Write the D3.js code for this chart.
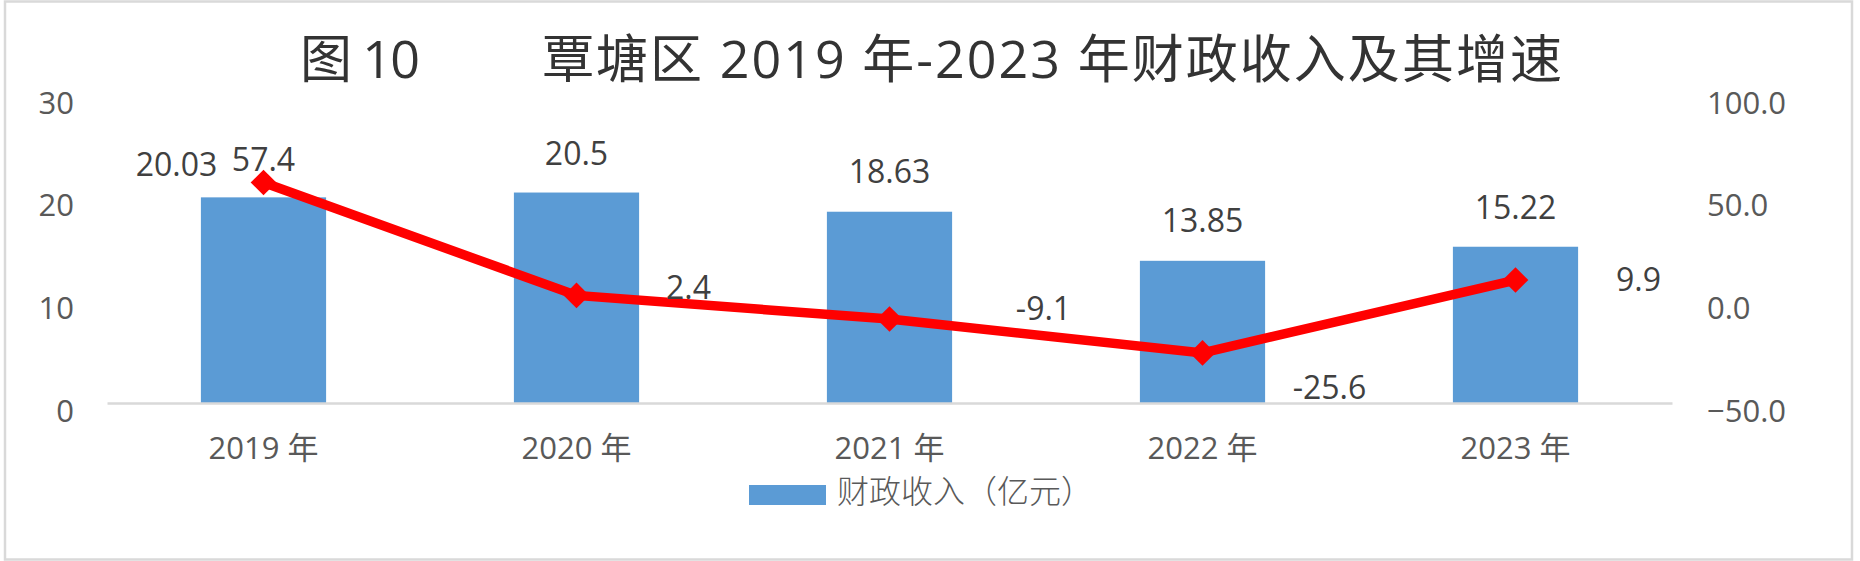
<!DOCTYPE html>
<html>
<head>
<meta charset="utf-8">
<script src="https://cdn.jsdelivr.net/npm/d3@7"></script>
<style>
  html, body { margin: 0; padding: 0; background: #fff; }
  svg text { font-family: "Open Sans", "Noto Sans CJK SC", sans-serif; }
  .cjk { font-family: "Noto Sans CJK SC", sans-serif; }
</style>
</head>
<body>
<div id="app"></div>
<script>
// data
const years = ['2019 年', '2020 年', '2021 年', '2022 年', '2023 年']
const revenue = [20.03, 20.5, 18.63, 13.85, 15.22]   // 财政收入（亿元）
const growth = [57.4, 2.4, -9.1, -25.6, 9.9]          // 增速 %
const leftTicks = [0, 10, 20, 30]
const rightTicks = [-50, 0, 50, 100]
const legendLabel = '财政收入（亿元）'

// hand placed label nudges (like the dragged labels in the original)
const barLabelNudge = [[-87, -21], [0, -28], [0, -29], [0, -29], [0, -28]]
const lineLabelNudge = [[0, -11], [112, 4], [154, 1], [127, 46], [123, 11]]

const size = { width: 1860, height: 561 }
const plot = { left: 107, right: 1672, top: 95, bottom: 403 }

const svg = d3.select('#app')
  .append('svg')
  .attr('width', size.width)
  .attr('height', size.height)

// outer frame
svg.append('rect')
  .attr('x', 5).attr('y', 1.5)
  .attr('width', 1847).attr('height', 558)
  .attr('fill', '#fff')
  .attr('stroke', '#d9d9d9')
  .attr('stroke-width', 2.5)

// title
svg.append('text')
  .attr('x', 300).attr('y', 78)
  .attr('textLength', 120)
  .attr('lengthAdjust', 'spacing')
  .attr('font-size', 52)
  .attr('fill', '#333')
  .text('图 10')

svg.append('text')
  .attr('x', 542).attr('y', 78)
  .attr('textLength', 1020)
  .attr('lengthAdjust', 'spacing')
  .attr('font-size', 52)
  .attr('fill', '#333')
  .text('覃塘区 2019 年-2023 年财政收入及其增速')

const x = d3.scaleBand()
  .domain(years)
  .range([plot.left, plot.right])
  .paddingInner(0.6)
  .paddingOuter(0.3)

const yLeft = d3.scaleLinear().domain([0, 30]).range([plot.bottom, plot.top])
const yRight = d3.scaleLinear().domain([-50, 100]).range([plot.bottom, plot.top])

const cx = i => x(years[i]) + x.bandwidth() / 2

// left axis
const leftAxis = svg.append('g')
  .attr('transform', `translate(${plot.left},0)`)
  .call(d3.axisLeft(yLeft).tickValues(leftTicks).tickSize(0).tickPadding(33))
leftAxis.select('.domain').remove()
leftAxis.selectAll('text')
  .attr('dy', 18)
  .attr('font-size', 31)
  .attr('font-family', null)
  .attr('fill', '#595959')

// right axis
const rightAxis = svg.append('g')
  .attr('transform', `translate(${plot.right},0)`)
  .call(d3.axisRight(yRight).tickValues(rightTicks).tickSize(0).tickPadding(35).tickFormat(d3.format('.1f')))
rightAxis.select('.domain').remove()
rightAxis.selectAll('text')
  .attr('dy', 18)
  .attr('font-size', 31)
  .attr('font-family', null)
  .attr('fill', '#595959')

// bars
svg.append('g')
  .selectAll('rect')
  .data(revenue)
  .enter()
  .append('rect')
  .attr('x', (d, i) => x(years[i]))
  .attr('y', d => yLeft(d))
  .attr('width', x.bandwidth())
  .attr('height', d => yLeft(0) - yLeft(d))
  .attr('fill', '#5b9bd5')

// category axis
const bottomAxis = svg.append('g')
  .attr('transform', `translate(0,${plot.bottom})`)
  .call(d3.axisBottom(x).tickSize(0).tickSizeOuter(0))
bottomAxis.select('.domain')
  .attr('stroke', '#d9d9d9')
  .attr('stroke-width', 2.5)
bottomAxis.selectAll('text')
  .attr('y', 56)
  .attr('dy', 0)
  .attr('font-size', 31)
  .attr('font-family', null)
  .attr('fill', '#595959')

// growth line
const line = d3.line()
  .x((d, i) => cx(i))
  .y(d => yRight(d))

svg.append('path')
  .datum(growth)
  .attr('d', line)
  .attr('fill', 'none')
  .attr('stroke', '#ff0000')
  .attr('stroke-width', 9.5)
  .attr('stroke-linejoin', 'miter')

svg.append('g')
  .selectAll('path')
  .data(growth)
  .enter()
  .append('path')
  .attr('d', d3.symbol(d3.symbolSquare, 330))
  .attr('transform', (d, i) => `translate(${cx(i)},${yRight(d)}) rotate(45)`)
  .attr('fill', '#ff0000')

// bar value labels
svg.append('g')
  .selectAll('text')
  .data(revenue)
  .enter()
  .append('text')
  .attr('x', (d, i) => cx(i) + barLabelNudge[i][0])
  .attr('y', (d, i) => yLeft(d) + barLabelNudge[i][1])
  .attr('text-anchor', 'middle')
  .attr('font-size', 32)
  .attr('fill', '#404040')
  .text(d => d)

// growth labels
svg.append('g')
  .selectAll('text')
  .data(growth)
  .enter()
  .append('text')
  .attr('x', (d, i) => cx(i) + lineLabelNudge[i][0])
  .attr('y', (d, i) => yRight(d) + lineLabelNudge[i][1])
  .attr('text-anchor', 'middle')
  .attr('font-size', 32)
  .attr('fill', '#404040')
  .text(d => d)

// legend
const legend = svg.append('g')
  .attr('transform', 'translate(749,485)')
legend.append('rect')
  .attr('width', 77)
  .attr('height', 20)
  .attr('fill', '#5b9bd5')
legend.append('text')
  .attr('class', 'cjk')
  .attr('x', 88)
  .attr('y', 18)
  .attr('font-size', 32)
  .attr('font-weight', 300)
  .attr('fill', '#595959')
  .text(legendLabel)
</script>
</body>
</html>
